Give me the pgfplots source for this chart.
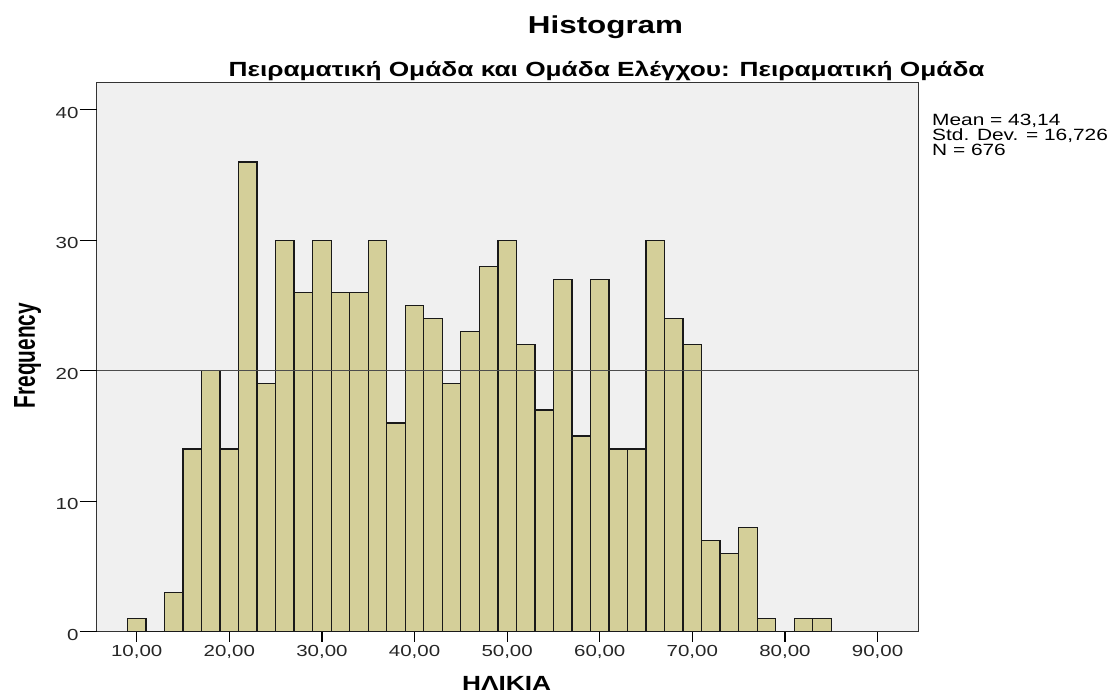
\documentclass[border=0pt]{standalone}
\usepackage{fontspec}
\usepackage{graphicx}
\usepackage{pgfplots}
\pgfplotsset{compat=1.18}
\setmainfont[FakeStretch=1.28]{Liberation Sans}
\newfontfamily\plainsans{Liberation Sans}

\definecolor{barfill}{RGB}{212,207,153}
\definecolor{plotbg}{RGB}{240,240,240}

\begin{document}
\begin{tikzpicture}
\useasboundingbox (-96.7pt,-63.3pt) rectangle (1014.3pt,631.7pt);
\begin{axis}[
  at={(0pt,0pt)}, anchor=south west,
  scale only axis, width=821.6pt, height=549pt,
  xmin=5.68, xmax=94.4, ymin=0, ymax=42.07,
  axis background/.style={fill=plotbg},
  axis line style={black!80, line width=1pt},
  xtick={10,20,...,90}, ytick=\empty,
  extra y ticks={0,10,20,30,40},
  extra y tick style={major tick length=17pt,
    yticklabel style={anchor=east, inner sep=0pt, xshift=-1pt, yshift=-3pt}},
  tick align=outside, xtick pos=bottom, ytick pos=left,
  major tick length=10pt,
  tick style={black, line width=1.2pt},
  xticklabel style={anchor=north, inner sep=0pt, yshift=-3.5pt,
    /pgf/number format/.cd, use comma, fixed, fixed zerofill, precision=2, 1000 sep={}},
  /pgf/number format/assume math mode=true,
  tick label style={font=\fontsize{16}{19}\selectfont, text=black!85},
]
\addplot[ybar interval, fill=barfill, draw=black!90, line width=1.3pt] coordinates {
  (9,1) (11,0) (13,3) (15,14) (17,20) (19,14) (21,36) (23,19) (25,30) (27,26)
  (29,30) (31,26) (33,26) (35,30) (37,16) (39,25) (41,24) (43,19) (45,23) (47,28)
  (49,30) (51,22) (53,17) (55,27) (57,15) (59,27) (61,14) (63,14) (65,30) (67,24)
  (69,22) (71,7) (73,6) (75,8) (77,1) (79,0) (81,1) (83,1) (85,0)};
\addplot[black!70, line width=1.4pt] coordinates {(5.68,20) (94.4,20)};
\end{axis}
\node[anchor=base, font=\fontsize{24.5}{28}\selectfont\bfseries] at (508.8pt,598.4pt) {Histogram};
\node[anchor=base, font=\fontsize{20.5}{24}\selectfont\bfseries] at (509.8pt,555pt) {Πειραματική Ομάδα και Ομάδα Ελέγχου: Πειραματική Ομάδα};
\node[anchor=base, font=\fontsize{20.5}{24}\selectfont\bfseries] at (410pt,-59pt) {ΗΛΙΚΙΑ};
\node[anchor=base, rotate=90, inner sep=0pt] at (-61.7pt,276.2pt) {\scalebox{1}[1.45]{\plainsans\fontsize{20.8}{24}\selectfont\bfseries Frequency}};
\node[anchor=base west, inner sep=0pt, font=\fontsize{16.3}{15}\selectfont] at (835.3pt,505.7pt) {Mean = 43,14};
\node[anchor=base west, inner sep=0pt, font=\fontsize{16.3}{15}\selectfont] at (835.3pt,490.7pt) {Std. Dev. = 16,726};
\node[anchor=base west, inner sep=0pt, font=\fontsize{16.3}{15}\selectfont] at (835.3pt,475.7pt) {N = 676};
\end{tikzpicture}
\end{document}
